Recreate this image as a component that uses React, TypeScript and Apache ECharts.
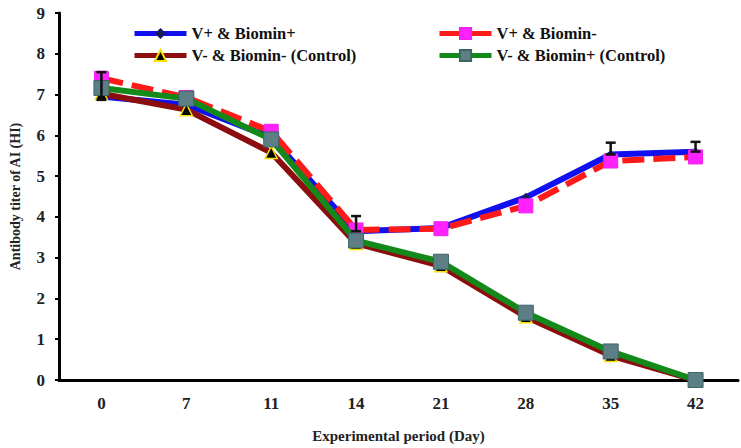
import React, { useEffect, useRef } from "react";
import * as echarts from "echarts";

const days = ["0", "7", "11", "14", "21", "28", "35", "42"];
const vPlusBPlus = [6.95, 6.75, 5.95, 3.65, 3.73, 4.48, 5.53, 5.6];
const vPlusBMinus = [7.4, 6.93, 6.1, 3.68, 3.71, 4.27, 5.37, 5.47];
const vMinusBMinus = [7.02, 6.63, 5.58, 3.35, 2.8, 1.55, 0.6, 0];
const vMinusBPlus = [7.16, 6.9, 5.9, 3.42, 2.9, 1.65, 0.7, 0];
// error bars of V+ & Biomin+: [category index, low, high]
const errorBars = [
  [0, 6.87, 7.55],
  [3, 3.65, 4.02],
  [6, 5.53, 5.82],
  [7, 5.6, 5.84],
];

const FONT = "Liberation Serif";

export default function App() {
  const ref = useRef<HTMLDivElement>(null);
  useEffect(() => {
    document.body.style.margin = "0";
    const chart = echarts.init(ref.current!, null, { renderer: "svg" });
    const legendText = {
      fontFamily: FONT, fontWeight: "bold", fontSize: 16.5, color: "#111", lineHeight: 16,
    };
    const legendCommon = {
      top: 20, orient: "vertical", itemGap: 5, itemWidth: 52, itemHeight: 14,
      textStyle: legendText, lineStyle: { width: 5 },
    };
    chart.setOption({
      animation: false,
      backgroundColor: "#fff",
      grid: { left: 58, right: 3, top: 13, bottom: 67 },
      legend: [
        { ...legendCommon, left: 127, data: ["V+ & Biomin+", "V- & Biomin- (Control)"] },
        { ...legendCommon, left: 432, data: ["V+ & Biomin-", "V- & Biomin+ (Control)"] },
      ],
      xAxis: {
        type: "category",
        data: days,
        boundaryGap: true,
        axisLine: { lineStyle: { color: "#000", width: 3 } },
        axisTick: { show: false },
        axisLabel: { fontFamily: FONT, fontWeight: "bold", fontSize: 17, color: "#222", margin: 15 },
        name: "Experimental period (Day)",
        nameLocation: "middle",
        nameGap: 48,
        nameTextStyle: { fontFamily: FONT, fontWeight: "bold", fontSize: 15, color: "#222" },
      },
      yAxis: {
        type: "value",
        min: 0,
        max: 9,
        interval: 1,
        splitLine: { show: false },
        axisLine: { show: true, lineStyle: { color: "#000", width: 3 } },
        axisTick: { show: true, length: 4, lineStyle: { color: "#000", width: 2 } },
        axisLabel: { fontFamily: FONT, fontWeight: "bold", fontSize: 17, color: "#222", margin: 14 },
        name: "Antibody titer of AI (HI)",
        nameLocation: "middle",
        nameGap: 37,
        nameTextStyle: { fontFamily: FONT, fontWeight: "bold", fontSize: 14, color: "#222" },
      },
      series: [
        {
          name: "V+ & Biomin+",
          type: "line",
          data: vPlusBPlus,
          z: 2,
          lineStyle: { color: "#1010ee", width: 6 },
          itemStyle: { color: "#1a1a60" },
          color: "#1010ee",
          symbol: "diamond",
          symbolSize: 9,
        },
        {
          name: "V+ & Biomin-",
          type: "line",
          data: vPlusBMinus,
          z: 3,
          lineStyle: { color: "#ff1a1a", width: 6, type: [22, 9] },
          itemStyle: { color: "#ff22ff", borderColor: "#ee22ee", borderWidth: 1 },
          color: "#ff1a1a",
          symbol: "rect",
          symbolSize: 14,
        },
        {
          name: "V- & Biomin- (Control)",
          type: "line",
          data: vMinusBMinus,
          z: 4,
          lineStyle: { color: "#8b0d0d", width: 6 },
          itemStyle: { color: "#000", borderColor: "#f5e000", borderWidth: 1.5 },
          color: "#8b0d0d",
          symbol: "triangle",
          symbolSize: 12,
        },
        {
          name: "V- & Biomin+ (Control)",
          type: "line",
          data: vMinusBPlus,
          z: 5,
          lineStyle: { color: "#13891a", width: 6 },
          itemStyle: { color: "#5c7f86", borderColor: "#3e6466", borderWidth: 1 },
          color: "#13891a",
          symbol: "rect",
          symbolSize: 15,
        },
        {
          type: "custom",
          name: "error",
          z: 6,
          data: errorBars,
          encode: { x: 0, y: [1, 2] },
          renderItem: (params: any, api: any) => {
            const x = api.value(0);
            const lo = api.coord([x, api.value(1)]);
            const hi = api.coord([x, api.value(2)]);
            const cap = 5;
            const style = { stroke: "#111", lineWidth: 2.5 };
            return {
              type: "group",
              children: [
                { type: "line", shape: { x1: lo[0], y1: lo[1], x2: hi[0], y2: hi[1] }, style },
                { type: "line", shape: { x1: hi[0] - cap, y1: hi[1], x2: hi[0] + cap, y2: hi[1] }, style },
                { type: "line", shape: { x1: lo[0] - cap, y1: lo[1], x2: lo[0] + cap, y2: lo[1] }, style },
              ],
            };
          },
        },
      ],
    });
    return () => chart.dispose();
  }, []);
  return <div ref={ref} style={{ width: 741, height: 448 }} />;
}
